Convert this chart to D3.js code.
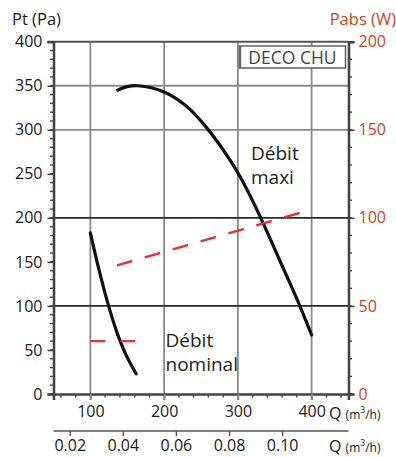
<!DOCTYPE html>
<html><head><meta charset="utf-8">
<script src="https://cdn.jsdelivr.net/npm/d3@7"></script>
<style>body{margin:0;background:#fff}svg{display:block}text{font-family:"Open Sans",sans-serif}</style>
</head><body><svg id="c" width="396" height="457"></svg>
<script>
// ---- data ----
const ptTicks = [0,50,100,150,200,250,300,350,400];
const pabsTicks = [0,50,100,150,200];
const qTicks = [100,200,300,400];
const qsTicks = [0.02,0.04,0.06,0.08,0.10];
const gridPt = [100,200,300,350];
const maxiQ  = [137,150,164,200,230,257,289,310,331,355,380,400];
const maxiPt = [345,349,350,343,327,303,266,236,200,155,108,67];
const nomQ   = [100,112,124,136,148,162];
const nomPt  = [183,140,102,70,45,23];
const pabsMaxiQ = [136,394];
const pabsMaxiW = [73,104];
const pabsNomQ  = [100,162];
const pabsNomW  = [30,30];

const svg = d3.select("#c");
const L=53.5, R=348.5, T=41.7, B=394;
const x = d3.scaleLinear().domain([50,450]).range([L,R]);
const xs = d3.scaleLinear().domain([50/3600,450/3600]).range([L,R]);
const y = d3.scaleLinear().domain([0,400]).range([B,T]);
const yr = d3.scaleLinear().domain([0,200]).range([B,T]);
const red="#c5471d";

// vertical gridlines
svg.selectAll(".vg").data(qTicks).join("line")
  .attr("x1",d=>x(d)).attr("x2",d=>x(d)).attr("y1",T).attr("y2",B+6)
  .attr("stroke","#8a8a8a").attr("stroke-width",1.8);
// horizontal gridlines
svg.selectAll(".hg").data(gridPt).join("line")
  .attr("x1",L).attr("x2",R).attr("y1",d=>y(d)).attr("y2",d=>y(d))
  .attr("stroke",d=>d<=200?"#2a2a2a":"#8a8a8a").attr("stroke-width",1.8);
// top border
svg.append("line").attr("x1",L-6).attr("x2",R).attr("y1",y(400)).attr("y2",y(400)).attr("stroke","#555").attr("stroke-width",2);

// left axis
const gl = svg.append("g").attr("transform",`translate(${L},0)`)
  .call(d3.axisLeft(y).tickValues(ptTicks).tickSize(6).tickPadding(5).tickFormat(d3.format("d")));
gl.select(".domain").attr("stroke","#444").attr("stroke-width",2.6);
gl.selectAll(".tick line").attr("stroke","#444").attr("stroke-width",1.6);
gl.selectAll("text").attr("font-size",16).attr("fill","#1a1a1a").attr("font-family","Open Sans");
svg.selectAll(".lm").data(d3.range(0,401,10)).join("line")
  .attr("x1",L-3.5).attr("x2",L+1.5).attr("y1",d=>y(d)).attr("y2",d=>y(d))
  .attr("stroke","#444").attr("stroke-width",1.4);

// right axis
const gr = svg.append("g").attr("transform",`translate(${R},0)`)
  .call(d3.axisRight(yr).tickValues(pabsTicks).tickSize(6).tickPadding(4).tickFormat(d3.format("d")));
gr.select(".domain").attr("stroke","#444").attr("stroke-width",2.6);
gr.selectAll(".tick line").attr("stroke","#444").attr("stroke-width",1.6);
gr.selectAll("text").attr("font-size",16).attr("fill",red).attr("font-family","Open Sans");
svg.selectAll(".rm").data(d3.range(0,201,10)).join("line")
  .attr("x1",R).attr("x2",R+3.5).attr("y1",d=>yr(d)).attr("y2",d=>yr(d))
  .attr("stroke","#444").attr("stroke-width",1.4);

// bottom axis
const gb = svg.append("g").attr("transform",`translate(0,${B})`)
  .call(d3.axisBottom(x).tickValues(qTicks).tickSize(6).tickPadding(6).tickFormat(d3.format("d")));
gb.select(".domain").attr("stroke","#444").attr("stroke-width",2.6);
gb.selectAll(".tick line").attr("stroke","#8a8a8a").attr("stroke-width",1.8);
gb.selectAll("text").attr("font-size",16).attr("fill","#1a1a1a").attr("font-family","Open Sans");
svg.selectAll(".bm").data(d3.range(60,441,20).filter(d=>d%100!==0)).join("line")
  .attr("x1",d=>x(d)).attr("x2",d=>x(d)).attr("y1",B).attr("y2",B+3.5)
  .attr("stroke","#444").attr("stroke-width",1.4);

// second axis (m3/s)
const g2 = svg.append("g").attr("transform",`translate(0,431)`)
  .call(d3.axisBottom(xs).tickValues(qsTicks).tickSize(5).tickPadding(4).tickFormat(d3.format(".2f")));
g2.select(".domain").attr("stroke","#555").attr("stroke-width",1.6).attr("d",`M${L},0H${R}`);
g2.selectAll(".tick line").attr("stroke","#555").attr("stroke-width",1.4);
g2.selectAll("text").attr("font-size",16).attr("fill","#1a1a1a").attr("font-family","Open Sans");

// unit labels
function qLabel(yy){
  const t = svg.append("text").attr("x",329).attr("y",yy).attr("font-size",16).attr("fill","#1a1a1a");
  t.append("tspan").text("Q ");
  t.append("tspan").attr("font-size",12).text("(m");
  t.append("tspan").attr("font-size",8.5).attr("dy",-6).text("3");
  t.append("tspan").attr("font-size",12).attr("dy",6).text("/h)");
}
qLabel(419); qLabel(451.5);

svg.append("text").attr("x",12).attr("y",25).attr("font-size",16.5).attr("fill","#1a1a1a").text("Pt (Pa)");
svg.append("text").attr("x",396).attr("y",25).attr("text-anchor","end").attr("font-size",16.5).attr("fill",red).text("Pabs (W)");

// DECO CHU box
svg.append("rect").attr("x",239.5).attr("y",46).attr("width",106).attr("height",22)
  .attr("fill","#fff").attr("stroke","#555").attr("stroke-width",1.4);
svg.append("line").attr("x1",240).attr("x2",240).attr("y1",46).attr("y2",68).attr("stroke","#666").attr("stroke-width",2.5);
svg.append("text").attr("x",292.5).attr("y",63.5).attr("text-anchor","middle").attr("font-size",17.5).attr("fill","#444").text("DECO CHU");

// curves
const line = d3.line().x(d=>x(d[0])).y(d=>y(d[1])).curve(d3.curveCatmullRom.alpha(0.5));
svg.append("path").datum(d3.zip(maxiQ,maxiPt)).attr("d",line)
  .attr("fill","none").attr("stroke","#111").attr("stroke-width",3.2).attr("stroke-linecap","round");
svg.append("path").datum(d3.zip(nomQ,nomPt)).attr("d",line)
  .attr("fill","none").attr("stroke","#111").attr("stroke-width",3.2).attr("stroke-linecap","round");
const lineW = d3.line().x(d=>x(d[0])).y(d=>yr(d[1]));
svg.append("path").datum(d3.zip(pabsMaxiQ,pabsMaxiW)).attr("d",lineW)
  .attr("fill","none").attr("stroke","#dd363d").attr("stroke-width",2.4).attr("stroke-dasharray","16,13");
svg.append("path").datum(d3.zip(pabsNomQ,pabsNomW)).attr("d",lineW)
  .attr("fill","none").attr("stroke","#dd363d").attr("stroke-width",2.4).attr("stroke-dasharray","15,15");

// annotations
function ann(xx,yy,lines){
  const t = svg.append("text").attr("x",xx).attr("y",yy).attr("font-size",19).attr("fill","#222");
  lines.forEach((s,i)=>t.append("tspan").attr("x",xx).attr("dy",i?24:0).text(s));
}
ann(251,160,["Débit","maxi"]);
ann(165.5,347,["Débit","nominal"]);
</script></body></html>
